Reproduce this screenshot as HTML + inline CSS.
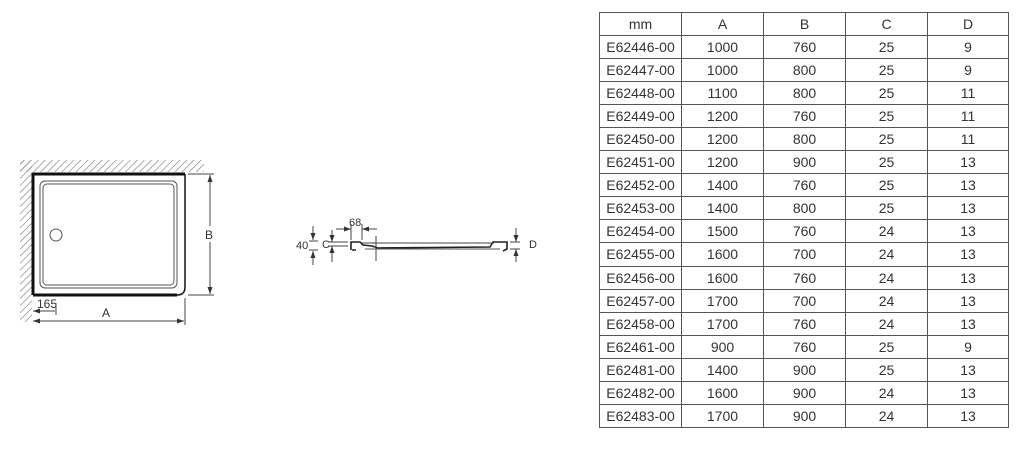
<!DOCTYPE html>
<html><head><meta charset="utf-8"><style>
html,body{margin:0;padding:0;background:#fff;width:1024px;height:452px;overflow:hidden;position:relative;font-family:"Liberation Sans",Arial,sans-serif;}
svg{position:absolute;left:0;top:0}
table{position:absolute;left:599px;top:12px;border-collapse:collapse;width:410px;color:#333;font-size:14px;}
td{border:1px solid #555;height:22.06px;padding:0;text-align:center;line-height:22px}
td:first-child{width:81px}
td:nth-child(2){width:81px}td:nth-child(3){width:81px}td:nth-child(4){width:81px}
</style></head><body>
<svg width="1024" height="452" viewBox="0 0 1024 452">
<defs>
<pattern id="h" width="5" height="5" patternUnits="userSpaceOnUse" patternTransform="rotate(45)">
<line x1="0" y1="0" x2="0" y2="5" stroke="#777" stroke-width="1.2"/></pattern>
<marker id="a" markerWidth="7" markerHeight="5" refX="7" refY="2.5" orient="auto-start-reverse" markerUnits="userSpaceOnUse"><path d="M0,0 L7,2.5 L0,5" fill="#333"/></marker>
</defs>
<g font-family="Liberation Sans, sans-serif" font-size="12" fill="#333">
<rect x="20" y="160" width="184" height="12" fill="url(#h)"/>
<rect x="20" y="160" width="12" height="162" fill="url(#h)"/>
<path d="M33,295 L33,174 L185,174" fill="none" stroke="#111" stroke-width="3"/>
<path d="M33,295 L177,295 Q185,295 185,287 L185,174" fill="none" stroke="#111" stroke-width="1.5"/>
<path d="M33,295 L177,295" stroke="#111" stroke-width="3"/>
<rect x="40" y="181" width="137" height="107" rx="5" fill="none" stroke="#555" stroke-width="1"/>
<rect x="43" y="184" width="131" height="101" rx="4" fill="none" stroke="#555" stroke-width="1"/>
<circle cx="56" cy="235" r="6" fill="none" stroke="#555"/>
<line x1="188" y1="174" x2="214" y2="174" stroke="#444"/>
<line x1="188" y1="295" x2="214" y2="295" stroke="#444"/>
<line x1="210" y1="175" x2="210" y2="226" stroke="#444" marker-start="url(#a)"/>
<line x1="210" y1="242" x2="210" y2="294" stroke="#444" marker-end="url(#a)"/>
<text x="205" y="239">B</text>
<text x="37" y="308">165</text>
<line x1="33" y1="311" x2="55" y2="311" stroke="#444" marker-start="url(#a)"/>
<line x1="56" y1="303" x2="56" y2="315" stroke="#444"/>
<line x1="185" y1="298" x2="185" y2="325" stroke="#444"/>
<line x1="33" y1="321" x2="184" y2="321" stroke="#444" marker-start="url(#a)" marker-end="url(#a)"/>
<text x="102" y="317">A</text>
<path d="M351,250 L351,242 L360,242 L363,245 L372,246 L378,248 L490,247 L493,242 L507,242 L507,249 L503,251 M352,250 L356,250" fill="none" stroke="#222" stroke-width="1.6"/>
<line x1="362" y1="243" x2="494" y2="243" stroke="#444"/>
<line x1="365" y1="249" x2="500" y2="249" stroke="#555"/>
<line x1="376" y1="236" x2="376" y2="261" stroke="#444"/>
<line x1="336" y1="229" x2="351" y2="229" stroke="#444" marker-end="url(#a)"/>
<line x1="377" y1="229" x2="362" y2="229" stroke="#444" marker-end="url(#a)"/>
<line x1="351" y1="224" x2="351" y2="240" stroke="#444"/>
<line x1="362" y1="224" x2="362" y2="240" stroke="#444"/>
<text x="349" y="226" font-size="11">68</text>
<line x1="313" y1="226" x2="313" y2="240" stroke="#444" marker-end="url(#a)"/>
<line x1="313" y1="265" x2="313" y2="251" stroke="#444" marker-end="url(#a)"/>
<line x1="309" y1="241" x2="318" y2="241" stroke="#444"/><line x1="309" y1="250" x2="318" y2="250" stroke="#444"/>
<text x="296" y="249" font-size="11">40</text>
<line x1="332" y1="230" x2="332" y2="242" stroke="#444" marker-end="url(#a)"/>
<line x1="332" y1="262" x2="332" y2="246" stroke="#444" marker-end="url(#a)"/>
<line x1="328" y1="242" x2="348" y2="242" stroke="#444"/><line x1="328" y1="246" x2="348" y2="246" stroke="#444"/>
<text x="322" y="248" font-size="11">C</text>
<line x1="516" y1="228" x2="516" y2="242" stroke="#444" marker-end="url(#a)"/>
<line x1="516" y1="262" x2="516" y2="249" stroke="#444" marker-end="url(#a)"/>
<line x1="510" y1="242" x2="520" y2="242" stroke="#444"/><line x1="510" y1="249" x2="520" y2="249" stroke="#444"/>
<text x="529" y="248" font-size="11">D</text>
</g>
</svg>
<table>
<tr><td>mm</td><td>A</td><td>B</td><td>C</td><td>D</td></tr>
<tr><td>E62446-00</td><td>1000</td><td>760</td><td>25</td><td>9</td></tr>
<tr><td>E62447-00</td><td>1000</td><td>800</td><td>25</td><td>9</td></tr>
<tr><td>E62448-00</td><td>1100</td><td>800</td><td>25</td><td>11</td></tr>
<tr><td>E62449-00</td><td>1200</td><td>760</td><td>25</td><td>11</td></tr>
<tr><td>E62450-00</td><td>1200</td><td>800</td><td>25</td><td>11</td></tr>
<tr><td>E62451-00</td><td>1200</td><td>900</td><td>25</td><td>13</td></tr>
<tr><td>E62452-00</td><td>1400</td><td>760</td><td>25</td><td>13</td></tr>
<tr><td>E62453-00</td><td>1400</td><td>800</td><td>25</td><td>13</td></tr>
<tr><td>E62454-00</td><td>1500</td><td>760</td><td>24</td><td>13</td></tr>
<tr><td>E62455-00</td><td>1600</td><td>700</td><td>24</td><td>13</td></tr>
<tr><td>E62456-00</td><td>1600</td><td>760</td><td>24</td><td>13</td></tr>
<tr><td>E62457-00</td><td>1700</td><td>700</td><td>24</td><td>13</td></tr>
<tr><td>E62458-00</td><td>1700</td><td>760</td><td>24</td><td>13</td></tr>
<tr><td>E62461-00</td><td>900</td><td>760</td><td>25</td><td>9</td></tr>
<tr><td>E62481-00</td><td>1400</td><td>900</td><td>25</td><td>13</td></tr>
<tr><td>E62482-00</td><td>1600</td><td>900</td><td>24</td><td>13</td></tr>
<tr><td>E62483-00</td><td>1700</td><td>900</td><td>24</td><td>13</td></tr>
</table>
</body></html>
